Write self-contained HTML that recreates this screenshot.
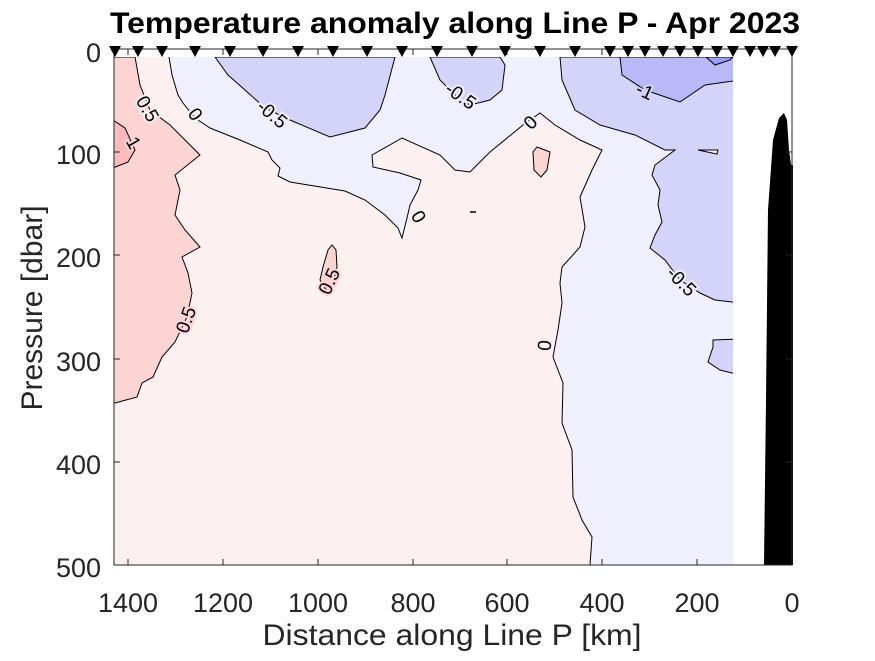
<!DOCTYPE html>
<html><head><meta charset="utf-8"><style>
body{margin:0;background:#fff;}
svg text{font-family:"Liberation Sans",sans-serif;}
</style></head><body>
<svg width="875" height="656" viewBox="0 0 875 656" xmlns="http://www.w3.org/2000/svg">
<defs><clipPath id="c"><rect x="114" y="57" width="619" height="508"/></clipPath></defs>
<g clip-path="url(#c)">
<rect x="114" y="57" width="619" height="508" fill="#fdf0f0"/>
<path d="M114,57 L135,57 L140,85 L150,110 L170,125 L200,155 L175,175 L180,190 L175,215 L185,230 L200,247 L182,257 L188,273 L192,293 L187,317 L175,342 L162,357 L153,377 L142,383 L137,397 L115,403 L114,403 Z" fill="#fdd4d4" stroke="#000" stroke-width="1"/>
<path d="M113,120 L125,128 L135,150 L128,162 L113,168 Z" fill="#fcbaba" stroke="#000" stroke-width="1"/>
<path d="M332,245 L336,250 L337,267 L333,285 L328,293 L320,280 L323,267 L328,250 Z" fill="#fdd4d4" stroke="#000" stroke-width="1"/>
<path d="M537,147 L550,152 L547,170 L541,177 L534,170 L533,152 Z" fill="#fdd4d4" stroke="#000" stroke-width="1"/>
<path d="M169,57 L172,75 L178,95 L183,103 L195,118 L210,128 L240,140 L268,152 L272,160 L280,168 L278,176 L290,182 L345,191 L365,200 L385,215 L398,228 L402,238 L407,218 L410,205 L418,190 L421,180 L400,173 L373,167 L372,155 L402,138 L440,155 L455,170 L470,172 L490,152 L523,125 L540,113 L555,125 L580,140 L602,150 L592,170 L580,197 L585,227 L580,247 L562,267 L560,283 L562,303 L558,330 L553,357 L563,383 L562,423 L572,450 L573,497 L582,520 L592,537 L590,565 L733,565 L733,57 Z" fill="#efeffd"/>
<path d="M169,57 L172,75 L178,95 L183,103 L195,118 L210,128 L240,140 L268,152 L272,160 L280,168 L278,176 L290,182 L345,191 L365,200 L385,215 L398,228 L402,238 L407,218 L410,205 L418,190 L421,180 L400,173 L373,167 L372,155 L402,138 L440,155 L455,170 L470,172 L490,152 L523,125 L540,113 L555,125 L580,140 L602,150 L592,170 L580,197 L585,227 L580,247 L562,267 L560,283 L562,303 L558,330 L553,357 L563,383 L562,423 L572,450 L573,497 L582,520 L592,537 L590,565" fill="none" stroke="#000" stroke-width="1"/>
<path d="M215,57 L228,75 L245,90 L265,108 L290,120 L330,137 L365,128 L380,110 L385,95 L395,57 Z" fill="#d4d4fb" stroke="#000" stroke-width="1"/>
<path d="M430,57 L440,80 L460,100 L470,105 L490,100 L502,90 L505,65 L500,57 Z" fill="#d4d4fb" stroke="#000" stroke-width="1"/>
<path d="M560,57 L562,80 L575,110 L600,125 L635,135 L665,150 L675,150 L655,165 L652,175 L660,190 L658,205 L662,222 L655,235 L650,248 L665,260 L680,280 L700,293 L715,300 L740,303 L740,57 Z" fill="#d4d4fb" stroke="#000" stroke-width="1"/>
<path d="M740,339 L713,340 L713,347 L708,362 L720,370 L740,375 Z" fill="#d4d4fb" stroke="#000" stroke-width="1"/>
<path d="M620,57 L622,75 L645,90 L680,102 L705,85 L740,80 L740,57 Z" fill="#b9b9fa" stroke="#000" stroke-width="1"/>
<path d="M706,57 L715,65 L730,60 L733,57 Z" fill="#9c9cf8" stroke="#000" stroke-width="1"/>
<path d="M698,150 L718,150 L717,154 Z" fill="#fff" stroke="#000" stroke-width="1"/>
<path d="M470,212 L476,212" stroke="#000" stroke-width="1.5"/>
</g>
<path d="M764,565 L766,400 L768,210 L773,140 L779,118 L784,113 L787,120 L789,150 L791,165 L793,165 L793,565 Z" fill="#000"/>
<g font-size="19" fill="#000">
<text transform="translate(142,112) rotate(60)" text-anchor="middle" style="paint-order:stroke" stroke="#fdf0f0" stroke-width="4">0.5</text>
<text transform="translate(190,118) rotate(55)" text-anchor="middle" stroke="#fdf0f0" stroke-width="4" style="paint-order:stroke">0</text>
<text transform="translate(268,119) rotate(40)" text-anchor="middle" stroke="#efeffd" stroke-width="4" style="paint-order:stroke">-0.5</text>
<text transform="translate(457,101) rotate(35)" text-anchor="middle" stroke="#efeffd" stroke-width="4" style="paint-order:stroke">-0.5</text>
<text transform="translate(413,220) rotate(60)" text-anchor="middle" stroke="#fdf0f0" stroke-width="4" style="paint-order:stroke">0</text>
<text transform="translate(535,127) rotate(-45)" text-anchor="middle" stroke="#efeffd" stroke-width="4" style="paint-order:stroke">0</text>
<text transform="translate(642,97) rotate(25)" text-anchor="middle" stroke="#d4d4fb" stroke-width="4" style="paint-order:stroke">-1</text>
<text transform="translate(128,146) rotate(60)" text-anchor="middle" stroke="#fdd4d4" stroke-width="4" style="paint-order:stroke">1</text>
<text transform="translate(335,284) rotate(-65)" text-anchor="middle" stroke="#fdd4d4" stroke-width="4" style="paint-order:stroke">0.5</text>
<text transform="translate(192,322) rotate(-70)" text-anchor="middle" stroke="#fdd4d4" stroke-width="4" style="paint-order:stroke">0.5</text>
<text transform="translate(551,346) rotate(-85)" text-anchor="middle" stroke="#fdf0f0" stroke-width="4" style="paint-order:stroke">0</text>
<text transform="translate(677,286) rotate(45)" text-anchor="middle" stroke="#efeffd" stroke-width="4" style="paint-order:stroke">-0.5</text>
</g>
<rect x="114" y="49" width="678" height="516" fill="none" stroke="#262626" stroke-width="1"/>
<g stroke="#262626" stroke-width="1">
<path d="M128,565 v-6 M223,565 v-6 M318,565 v-6 M413,565 v-6 M507,565 v-6 M602,565 v-6 M697,565 v-6 M128,49 v6 M223,49 v6 M318,49 v6 M413,49 v6 M507,49 v6 M602,49 v6 M697,49 v6"/>
<path d="M114,152 h6 M114,255 h6 M114,359 h6 M114,462 h6 M792,152 h-6 M792,255 h-6 M792,359 h-6 M792,462 h-6"/>
</g>
<g fill="#000">
<path d="M109,46 h12 l-6,11Z M132,46 h12 l-6,11Z M156,46 h12 l-6,11Z M189,46 h12 l-6,11Z M224,46 h12 l-6,11Z M257,46 h12 l-6,11Z M292,46 h12 l-6,11Z M327,46 h12 l-6,11Z M361,46 h12 l-6,11Z M396,46 h12 l-6,11Z M431,46 h12 l-6,11Z M466,46 h12 l-6,11Z M499,46 h12 l-6,11Z M534,46 h12 l-6,11Z M569,46 h12 l-6,11Z M604,46 h12 l-6,11Z M622,46 h12 l-6,11Z M639,46 h12 l-6,11Z M657,46 h12 l-6,11Z M674,46 h12 l-6,11Z M692,46 h12 l-6,11Z M711,46 h12 l-6,11Z M727,46 h12 l-6,11Z M744,46 h12 l-6,11Z M757,46 h12 l-6,11Z M769,46 h12 l-6,11Z M786,46 h12 l-6,11Z"/>
</g>
<g font-size="27" fill="#262626" text-anchor="middle">
<text x="128" y="612">1400</text><text x="223" y="612">1200</text><text x="318" y="612">1000</text><text x="413" y="612">800</text><text x="507" y="612">600</text><text x="602" y="612">400</text><text x="697" y="612">200</text><text x="792" y="612">0</text>
</g>
<g font-size="27" fill="#262626" text-anchor="end">
<text x="101" y="62">0</text><text x="101" y="164">100</text><text x="101" y="267">200</text><text x="101" y="371">300</text><text x="101" y="474">400</text><text x="101" y="577">500</text>
</g>
<text x="452" y="645" font-size="30" fill="#262626" text-anchor="middle" textLength="379" lengthAdjust="spacingAndGlyphs">Distance along Line P [km]</text>
<text transform="translate(42,308) rotate(-90)" font-size="30" fill="#262626" text-anchor="middle">Pressure [dbar]</text>
<text x="455" y="33" font-size="30" font-weight="bold" fill="#000" text-anchor="middle" textLength="690" lengthAdjust="spacingAndGlyphs">Temperature anomaly along Line P - Apr 2023</text>
</svg>
</body></html>
